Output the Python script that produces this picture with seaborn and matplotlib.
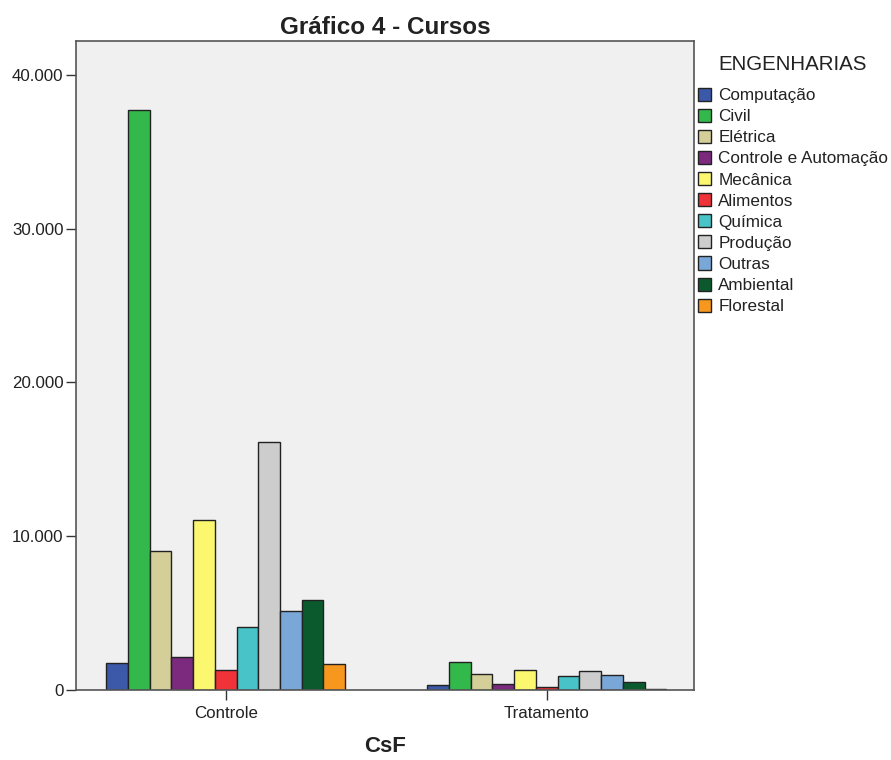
import numpy as np
import pandas as pd
import seaborn as sns
import matplotlib.pyplot as plt
from matplotlib.ticker import FuncFormatter
from matplotlib.patches import Patch

groups = ["Controle", "Tratamento"]
cursos = ["Computação", "Civil", "Elétrica", "Controle e Automação", "Mecânica",
          "Alimentos", "Química", "Produção", "Outras", "Ambiental", "Florestal"]
controle = [1750, 37700, 9040, 2150, 11060, 1300, 4100, 16130, 5140, 5850, 1690]
tratamento = [325, 1800, 1020, 410, 1280, 195, 890, 1215, 955, 500, 65]
cores = ["#3C58A8", "#33B94B", "#D4CE98", "#7B2A7E", "#FBF76E", "#F03239",
         "#48C4C8", "#CDCDCD", "#79A8D8", "#0B5A2E", "#F7971D"]

df = pd.DataFrame({
    "CsF": np.repeat(groups, len(cursos)),
    "ENGENHARIAS": cursos * 2,
    "n": controle + tratamento,
})

sns.set_style("white")
plt.rcParams["font.family"] = ["Liberation Sans", "DejaVu Sans"]

fig = plt.figure(figsize=(8.91, 7.6), dpi=100)
ax = fig.add_axes([0.0853, 0.092, 0.6937, 0.854])
ax.set_facecolor("#F0F0F0")

sns.barplot(data=df, x="CsF", y="n", hue="ENGENHARIAS", hue_order=cursos,
            palette=cores, width=0.745, gap=0, edgecolor="#222222", linewidth=1.0,
            saturation=1, errorbar=None, ax=ax, legend=False)

ax.set_xlim(-0.466, 1.459)
ax.set_ylim(0, 42200)
ax.set_yticks([0, 10000, 20000, 30000, 40000])
ax.yaxis.set_major_formatter(FuncFormatter(lambda v, p: f"{int(v):,}".replace(",", ".")))
ax.tick_params(axis="both", direction="out", length=7.5, width=1, color="#333333",
               labelsize=12.2, labelcolor="#222222", left=True, bottom=True, pad=1.5)
ax.tick_params(axis="x", pad=4)
for s in ax.spines.values():
    s.set_color("#555555")
    s.set_linewidth(1.2)
ax.set_ylabel("")
ax.set_xlabel("CsF", fontsize=16, fontweight="bold", labelpad=11, color="#222222")
ax.set_title("Gráfico 4 - Cursos", fontsize=17.5, fontweight="bold", pad=5, color="#222222")

handles = [Patch(facecolor=c, edgecolor="#222222", linewidth=1) for c in cores]
leg = fig.legend(handles, cursos, title="ENGENHARIAS", loc="upper left",
                 bbox_to_anchor=(0.783, 0.928), frameon=False, fontsize=12.3,
                 handlelength=0.8, handleheight=0.8, handletextpad=0.4,
                 labelspacing=0.33, borderaxespad=0, borderpad=0)
leg._legend_box.sep = 10
leg.get_title().set_fontsize(14.8)
leg.get_title().set_color("#222222")
for t in leg.get_texts():
    t.set_color("#222222")

fig.savefig("out.png", dpi=100, facecolor="white")
